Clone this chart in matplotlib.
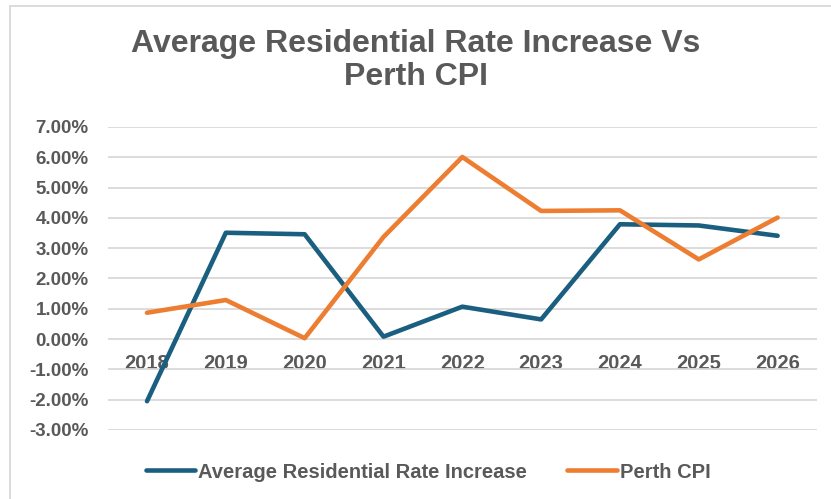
import matplotlib
matplotlib.use("Agg")
import matplotlib.pyplot as plt
from matplotlib.lines import Line2D

years = ["2018", "2019", "2020", "2021", "2022", "2023", "2024", "2025", "2026"]
avg_rate = [-2.05, 3.51, 3.46, 0.08, 1.07, 0.65, 3.79, 3.75, 3.41]
perth_cpi = [0.87, 1.29, 0.03, 3.37, 6.01, 4.23, 4.25, 2.63, 4.01]
yticks = [7, 6, 5, 4, 3, 2, 1, 0, -1, -2, -3]

BLUE = "#1B5F80"
ORANGE = "#ED7D31"
GRAY = "#595959"
FONT = "Liberation Sans"

W, H = 831, 499
fig = plt.figure(figsize=(W / 100, H / 100), dpi=100)
ax = fig.add_axes([107.6 / W, 1 - 430 / H, (817 - 107.6) / W, (430 - 127) / H])

x = list(range(len(years)))
ax.plot(x, avg_rate, color=BLUE, lw=3.3, solid_capstyle="round", solid_joinstyle="round",
        label="Average Residential Rate Increase", zorder=3)
ax.plot(x, perth_cpi, color=ORANGE, lw=3.3, solid_capstyle="round", solid_joinstyle="round",
        label="Perth CPI", zorder=3)

ax.set_xlim(-0.5, len(years) - 0.5)
ax.set_ylim(-3, 7)
ax.set_yticks(yticks)
ax.set_yticklabels([f"{v:.2f}%" for v in yticks], fontfamily=FONT, fontweight="bold",
                   fontsize=13.5, color=GRAY)
ax.yaxis.grid(True, color="#D9D9D9", lw=1.3, zorder=0)
ax.tick_params(axis="y", length=0, pad=13.5)

ax.spines["bottom"].set_position(("data", 0))
for s in ax.spines.values():
    s.set_visible(False)
ax.set_xticks(x)
ax.set_xticklabels(years, fontfamily=FONT, fontweight="bold", fontsize=14.5, color=GRAY)
ax.tick_params(axis="x", length=0, pad=11)
ax.set_axisbelow(True)

fig.text(0.5, 1 - 44 / H, "Average Residential Rate Increase Vs", ha="center", va="center",
         fontfamily=FONT, fontweight="bold", fontsize=23, color=GRAY)
fig.text(0.5, 1 - 77 / H, "Perth CPI", ha="center", va="center",
         fontfamily=FONT, fontweight="bold", fontsize=23, color=GRAY)

handles = [Line2D([0], [0], color=BLUE, lw=3.3, solid_capstyle="round"),
           Line2D([0], [0], color=ORANGE, lw=3.3, solid_capstyle="round")]
fig.legend(handles, ["Average Residential Rate Increase", "Perth CPI"], loc="center",
           bbox_to_anchor=(0.515, 1 - 472 / H), ncol=2, frameon=False, handlelength=2.45,
           handletextpad=0.15, columnspacing=2.0,
           prop={"family": FONT, "weight": "bold", "size": 14.5})
for t in fig.legends[0].get_texts():
    t.set_color(GRAY)

# outer chart-area border (left and top)
fig.add_artist(Line2D([9.5 / W, 9.5 / W], [0, 1 - 6 / H], transform=fig.transFigure, color="#D9D9D9", lw=1.3))
fig.add_artist(Line2D([9.5 / W, 1], [1 - 6 / H, 1 - 6 / H], transform=fig.transFigure, color="#D9D9D9", lw=1.3))

fig.savefig("out.png", dpi=100)
